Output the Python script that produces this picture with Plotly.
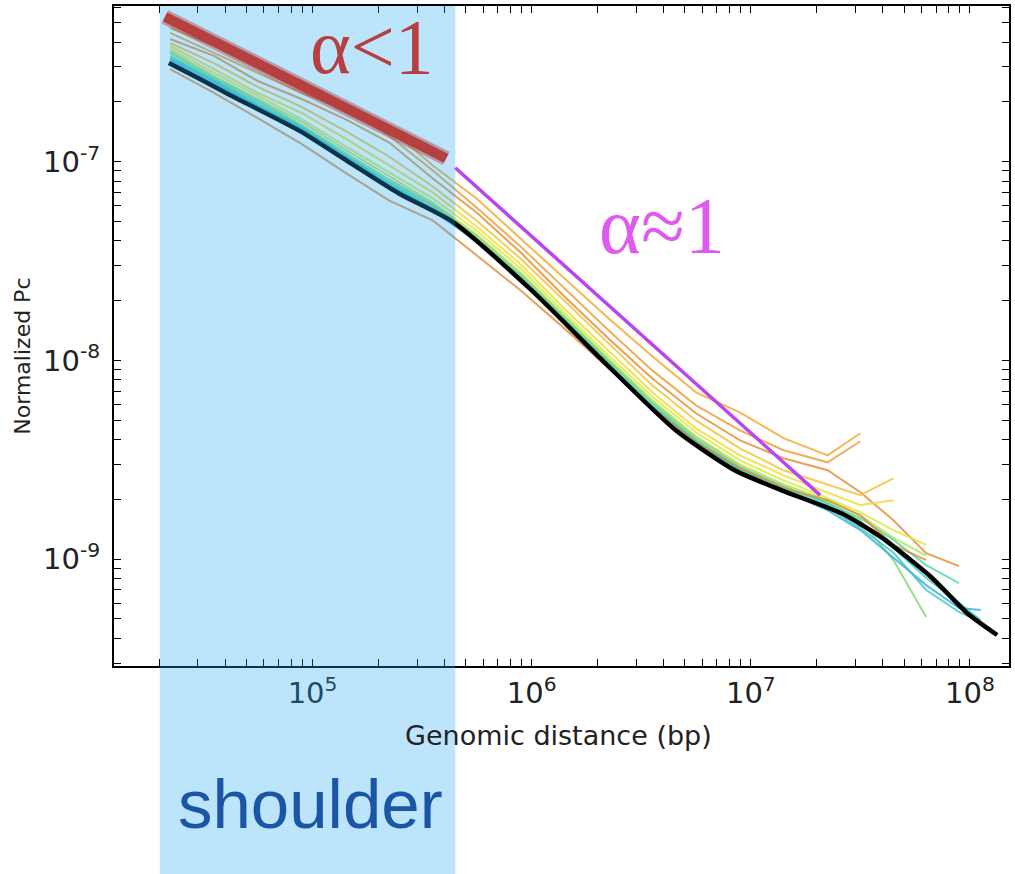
import plotly.graph_objects as go

# ---------------- data ----------------
# common genomic-distance bins (bp) used by the individual curves
grid_bp = [2.24e4, 3.55e4, 5.62e4, 8.91e4, 1.41e5, 2.24e5, 3.55e5, 5.62e5, 8.91e5,
           1.41e6, 2.24e6, 3.55e6, 5.62e6, 8.91e6, 1.41e7, 2.24e7, 3.16e7, 4.47e7,
           6.31e7, 8.91e7, 1.12e8]

pc_1 = [4.71e-7, 3.83e-7, 3.14e-7, 2.55e-7, 1.96e-7, 1.47e-7, 9.55e-8, 6.52e-8, 4.10e-8,
        2.58e-8, 1.63e-8, 1.05e-8, 6.91e-9, 5.48e-9, 4.06e-9, 3.33e-9, 4.30e-9]
pc_2 = [4.45e-7, 3.53e-7, 2.80e-7, 2.22e-7, 1.85e-7, 1.35e-7, 9.01e-8, 5.87e-8, 3.74e-8,
        2.30e-8, 1.42e-8, 8.91e-9, 5.94e-9, 4.45e-9, 3.53e-9, 3.07e-9, 3.92e-9]
pc_3 = [4.15e-7, 3.41e-7, 2.55e-7, 2.07e-7, 1.64e-7, 1.25e-7, 8.21e-8, 5.54e-8, 3.49e-8,
        2.10e-8, 1.29e-8, 8.12e-9, 5.42e-9, 3.96e-9, 3.22e-9, 2.80e-9, 2.17e-9, 1.57e-9,
        1.07e-9, 9.22e-10]
pc_4 = [3.96e-7, 3.14e-7, 2.38e-7, 1.89e-7, 1.43e-7, 1.06e-7, 7.49e-8, 5.05e-8, 3.25e-8,
        2.00e-8, 1.23e-8, 7.49e-9, 4.99e-9, 3.61e-9, 2.80e-9, 2.38e-9, 2.10e-9, 2.55e-9]
pc_5 = [3.83e-7, 2.93e-7, 2.22e-7, 1.76e-7, 1.31e-7, 9.55e-8, 6.99e-8, 4.71e-8, 3.04e-8,
        1.82e-8, 1.12e-8, 6.91e-9, 4.55e-9, 3.33e-9, 2.64e-9, 2.17e-9, 1.87e-9, 1.98e-9]
pc_6 = [3.70e-7, 2.80e-7, 2.15e-7, 1.64e-7, 1.20e-7, 8.81e-8, 6.52e-8, 4.50e-8, 2.90e-8,
        1.74e-8, 1.06e-8, 6.59e-9, 4.35e-9, 3.14e-9, 2.49e-9, 2.03e-9, 1.72e-9, 1.40e-9,
        1.18e-9]
pc_7 = [3.61e-7, 2.70e-7, 2.07e-7, 1.59e-7, 1.15e-7, 8.41e-8, 6.22e-8, 4.30e-8, 2.77e-8,
        1.68e-8, 1.02e-8, 6.30e-9, 4.15e-9, 3.00e-9, 2.38e-9, 1.98e-9, 1.66e-9, 1.28e-9,
        1.04e-9]
pc_8 = [3.53e-7, 2.64e-7, 2.03e-7, 1.53e-7, 1.11e-7, 8.12e-8, 6.08e-8, 4.20e-8, 2.71e-8,
        1.64e-8, 1.00e-8, 6.15e-9, 4.06e-9, 2.93e-9, 2.33e-9, 1.93e-9, 1.57e-9, 9.89e-10,
        5.11e-10]
pc_9 = [3.41e-7, 2.58e-7, 1.98e-7, 1.50e-7, 1.08e-7, 7.93e-8, 5.94e-8, 4.10e-8, 2.64e-8,
        1.61e-8, 9.77e-9, 6.01e-9, 3.96e-9, 2.87e-9, 2.30e-9, 1.91e-9, 1.61e-9, 1.25e-9,
        9.33e-10, 7.57e-10]
pc_10 = [3.33e-7, 2.55e-7, 1.93e-7, 1.48e-7, 1.07e-7, 7.75e-8, 5.80e-8, 4.01e-8, 2.58e-8,
         1.57e-8, 9.55e-9, 5.87e-9, 3.92e-9, 2.80e-9, 2.25e-9, 1.87e-9, 1.53e-9, 1.14e-9,
         8.03e-10, 6.01e-10, 4.94e-10]
pc_11 = [3.22e-7, 2.47e-7, 1.89e-7, 1.45e-7, 1.05e-7, 7.57e-8, 5.67e-8, 3.96e-8, 2.55e-8,
         1.55e-8, 9.44e-9, 5.80e-9, 3.87e-9, 2.77e-9, 2.20e-9, 1.76e-9, 1.40e-9, 1.02e-9,
         7.40e-10, 5.67e-10, 5.54e-10]
pc_12 = [3.29e-7, 2.52e-7, 1.91e-7, 1.47e-7, 1.06e-7, 7.66e-8, 5.74e-8, 4.01e-8, 2.58e-8,
         1.57e-8, 9.44e-9, 5.80e-9, 3.87e-9, 2.80e-9, 2.22e-9, 1.82e-9, 1.43e-9, 1.08e-9,
         6.99e-10, 5.42e-10, 4.82e-10]
pc_13 = [2.93e-7, 2.22e-7, 1.66e-7, 1.23e-7, 8.81e-8, 6.37e-8, 5.05e-8, 3.37e-8, 2.25e-8,
         1.45e-8, 9.12e-9, 5.80e-9, 3.87e-9, 2.87e-9, 2.27e-9, 1.98e-9, 1.66e-9, 1.18e-9,
         9.89e-10]

curve_values = [pc_1, pc_2, pc_3, pc_4, pc_5, pc_6, pc_7, pc_8, pc_9, pc_10, pc_11, pc_12, pc_13]
curve_colors = ["#F5A623", "#EE9A2E", "#E8892B", "#F5C02A", "#F2DA2C", "#D9E83A", "#B4E24E",
                "#7ED66E", "#4FD6A2", "#2ECFD2", "#2AAFE6", "#3CC6C0", "#E08A3C"]

# average curve (black)
mean_bp = [2.21e4, 3.06e4, 4.19e4, 8.73e4, 1.47e5, 2.49e5, 4.43e5, 1.00e6, 2.03e6, 4.54e6,
           8.43e6, 1.38e7, 2.59e7, 3.93e7, 6.64e7, 9.69e7, 1.33e8]
mean_pc = [3.14e-7, 2.61e-7, 2.17e-7, 1.43e-7, 9.94e-8, 6.90e-8, 4.93e-8, 2.25e-8, 1.04e-8,
           4.45e-9, 2.80e-9, 2.22e-9, 1.70e-9, 1.29e-9, 8.13e-10, 5.36e-10, 4.15e-10]

# guide lines
alpha1_bp = [4.48e5, 2.07e7]
alpha1_pc = [9.33e-8, 2.10e-9]
alpha_lt_bp = [2.12e4, 4.07e5]
alpha_lt_pc = [5.36e-7, 1.04e-7]
shoulder_bp = [2.01e4, 4.48e5]

x_range_log = [4.094, 8.178]
y_range_log = [-9.538, -6.216]

# tick positions / labels (major powers of ten + unlabeled 2..9 minors)
x_major = [1e5, 1e6, 1e7, 1e8]
x_major_text = ["10<sup>5</sup>", "10<sup>6</sup>", "10<sup>7</sup>", "10<sup>8</sup>"]
y_major = [1e-9, 1e-8, 1e-7]
y_major_text = ["10<sup>-9</sup>", "10<sup>-8</sup>", "10<sup>-7</sup>"]
x_minor = [m * 10.0 ** e for e in range(4, 9) for m in range(2, 10)]
y_minor = [m * 10.0 ** e for e in range(-10, -6) for m in range(2, 10)]

# ---------------- figure ----------------
fig = go.Figure()

for vals, col in zip(curve_values, curve_colors):
    fig.add_trace(go.Scatter(x=grid_bp[:len(vals)], y=vals, mode="lines",
                             line=dict(color=col, width=2), opacity=0.8,
                             showlegend=False, hoverinfo="skip"))

fig.add_trace(go.Scatter(x=mean_bp, y=mean_pc, mode="lines",
                         line=dict(color="black", width=4.5, shape="spline", smoothing=0.6),
                         showlegend=False))

fig.add_trace(go.Scatter(x=alpha1_bp, y=alpha1_pc, mode="lines",
                         line=dict(color="#BB44EE", width=3.5), showlegend=False))

# shoulder region (translucent overlay)
fig.add_shape(type="rect", xref="x", yref="paper",
              x0=shoulder_bp[0], x1=shoulder_bp[1], y0=-0.33, y1=1,
              fillcolor="#22A5F1", opacity=0.3, line=dict(width=0), layer="above")
# alpha<1 band (soft edge + core)
fig.add_shape(type="line", xref="x", yref="y",
              x0=alpha_lt_bp[0], x1=alpha_lt_bp[1], y0=alpha_lt_pc[0], y1=alpha_lt_pc[1],
              line=dict(color="#B5403F", width=15), opacity=0.45, layer="above")
fig.add_shape(type="line", xref="x", yref="y",
              x0=alpha_lt_bp[0], x1=alpha_lt_bp[1], y0=alpha_lt_pc[0], y1=alpha_lt_pc[1],
              line=dict(color="#B5403F", width=10), layer="above")

tickfont = dict(family="DejaVu Sans", size=29, color="#222222")
axis_common = dict(type="log", ticks="inside", ticklen=7, tickwidth=1.3, tickcolor="black",
                   mirror="allticks", showline=True, linecolor="black", linewidth=2,
                   showgrid=False, zeroline=False, tickfont=tickfont, tickmode="array")

fig.update_xaxes(range=x_range_log, tickvals=x_major + x_minor,
                 ticktext=x_major_text + [""] * len(x_minor), **axis_common)
fig.update_yaxes(range=y_range_log, tickvals=y_major + y_minor,
                 ticktext=y_major_text + [""] * len(y_minor), ticklabelstandoff=6,
                 **axis_common)

fig.add_annotation(text="Genomic distance (bp)", xref="paper", yref="paper",
                   x=0.497, y=-0.106, showarrow=False, xanchor="center", yanchor="middle",
                   font=dict(family="DejaVu Sans", size=27, color="#222222"))
fig.add_annotation(text="Normalized Pc", xref="paper", yref="paper", textangle=-90,
                   x=-0.1026, y=0.469, showarrow=False, xanchor="center", yanchor="middle",
                   font=dict(family="DejaVu Sans", size=22, color="#222222"))
fig.add_annotation(text="shoulder", xref="paper", yref="paper",
                   x=0.2196, y=-0.210, showarrow=False, xanchor="center", yanchor="middle",
                   font=dict(family="Liberation Sans", size=69, color="#1B55A6"))
fig.add_annotation(text="α&lt;1", xref="paper", yref="paper",
                   x=0.2885, y=1.0075, showarrow=False, xanchor="center", yanchor="top",
                   font=dict(family="Liberation Serif", size=78, color="#B5403F"))
fig.add_annotation(text="α≈1", xref="paper", yref="paper",
                   x=0.612, y=0.666, showarrow=False, xanchor="center", yanchor="middle",
                   font=dict(family="Liberation Serif", size=80, color="#E05AF0"))

fig.update_layout(width=1015, height=874, margin=dict(l=114, r=4, t=5, b=208),
                  paper_bgcolor="white", plot_bgcolor="white", showlegend=False)

fig.write_html("out.html")
